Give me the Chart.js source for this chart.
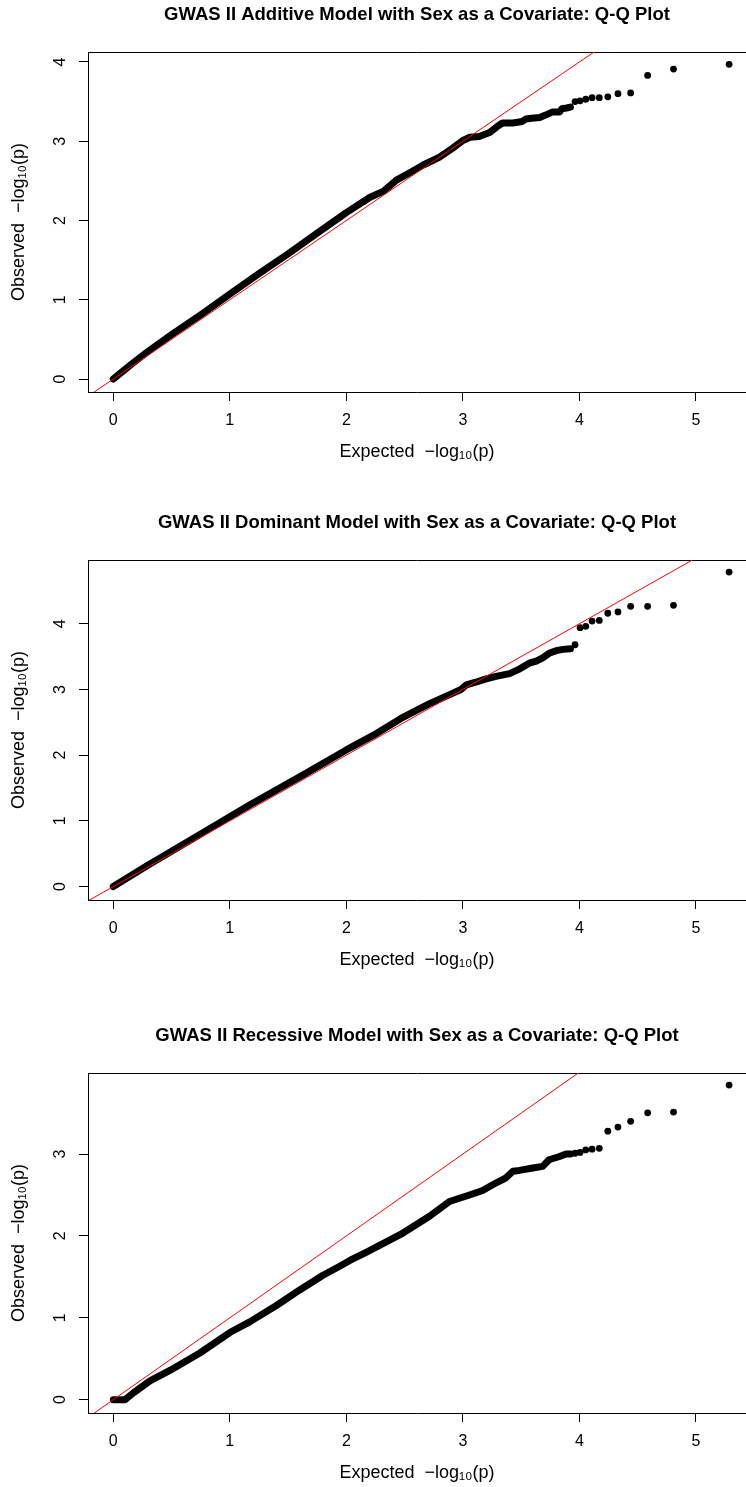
<!DOCTYPE html>
<html><head><meta charset="utf-8">
<script src="https://cdn.jsdelivr.net/npm/chart.js@4.4.1/dist/chart.umd.min.js"></script>
<style>
html,body{margin:0;padding:0;background:#fff;width:746px;height:1487px;overflow:hidden;position:relative;}
.wrap{position:absolute;left:0;width:834px;height:480px;}
</style></head><body>
<div class="wrap" style="top:0px"><canvas id="c1" width="834" height="480"></canvas></div>
<div class="wrap" style="top:508px"><canvas id="c2" width="834" height="480"></canvas></div>
<div class="wrap" style="top:1021px"><canvas id="c3" width="834" height="480"></canvas></div>
<script>
// ---- data: [expected, observed] ----
const xTicks = [0, 1, 2, 3, 4, 5];
const yTicksAdditive = [0, 1, 2, 3, 4];
const yTicksDominant = [0, 1, 2, 3, 4];
const yTicksRecessive = [0, 1, 2, 3];

const titles = [
  'GWAS II Additive Model with Sex as a Covariate: Q-Q Plot',
  'GWAS II Dominant Model with Sex as a Covariate: Q-Q Plot',
  'GWAS II Recessive Model with Sex as a Covariate: Q-Q Plot'
];
const xLabel = 'Expected  \u2212log\u2081\u2080(p)';
const yLabel = 'Observed  \u2212log\u2081\u2080(p)';

// dense bulk of points (drawn as a band of overlapping markers)
const additiveDense = [[0,0],[0.05,0.06],[0.15,0.18],[0.3,0.35],[0.5,0.56],[0.75,0.81],[1.0,1.07],[1.25,1.33],[1.5,1.58],[1.75,1.84],[2.0,2.10],[2.2,2.29],[2.32,2.37],[2.43,2.51],[2.54,2.60],[2.66,2.70],[2.8,2.80],[2.91,2.91],[3.0,3.01],[3.06,3.05],[3.14,3.06],[3.23,3.11],[3.29,3.18],[3.34,3.23],[3.43,3.23],[3.51,3.25],[3.54,3.28],[3.59,3.29],[3.66,3.30],[3.71,3.33],[3.77,3.37],[3.83,3.37],[3.85,3.41],[3.89,3.42],[3.923,3.43]];
const additiveTail = [[3.963,3.50],[4.006,3.51],[4.055,3.53],[4.109,3.55],[4.171,3.55],[4.244,3.56],[4.331,3.60],[4.44,3.61],[4.586,3.83],[4.808,3.91],[5.285,3.97]];

const dominantDense = [[0,0],[0.3,0.33],[0.74,0.79],[1.17,1.24],[1.6,1.67],[2.0,2.08],[2.23,2.30],[2.49,2.58],[2.71,2.78],[2.91,2.94],[2.985,3.0],[3.03,3.07],[3.11,3.11],[3.2,3.16],[3.285,3.20],[3.40,3.24],[3.485,3.31],[3.57,3.40],[3.63,3.43],[3.685,3.48],[3.74,3.55],[3.80,3.59],[3.86,3.61],[3.923,3.62]];
const dominantTail = [[3.963,3.68],[4.006,3.94],[4.055,3.96],[4.109,4.04],[4.171,4.05],[4.244,4.16],[4.331,4.18],[4.44,4.265],[4.586,4.265],[4.808,4.28],[5.285,4.787]];

const recessiveDense = [[0,0],[0.1,0.0],[0.17,0.08],[0.315,0.23],[0.49,0.36],[0.743,0.57],[1.0,0.82],[1.171,0.95],[1.4,1.15],[1.6,1.34],[1.8,1.52],[1.943,1.63],[2.03,1.70],[2.17,1.80],[2.285,1.884],[2.486,2.035],[2.714,2.24],[2.885,2.42],[3.057,2.50],[3.17,2.555],[3.256,2.625],[3.37,2.71],[3.43,2.79],[3.485,2.80],[3.6,2.83],[3.685,2.85],[3.74,2.93],[3.83,2.97],[3.885,3.0],[3.923,3.0]];
const recessiveTail = [[3.963,3.01],[4.006,3.02],[4.055,3.05],[4.109,3.06],[4.171,3.07],[4.244,3.28],[4.331,3.33],[4.44,3.40],[4.586,3.504],[4.808,3.513],[5.285,3.842]];

// y = x reference line endpoints
const diagonal = [[-1,-1],[6,6]];

const xRange = [-0.217, 5.43];
const yRangeAdditive = [-0.164, 4.126];
const yRangeDominant = [-0.204, 4.97];
const yRangeRecessive = [-0.163, 3.99];

// ---- rendering ----
const FAM = '"Liberation Sans", Arial, Helvetica, sans-serif';
const toXY = arr => arr.map(p => ({x: p[0], y: p[1]}));

function makeChart(id, title, dense, tail, yTicks, yRange) {
  const grid = {display: true, drawOnChartArea: false, drawTicks: true, tickLength: 9, tickColor: '#000', color: '#000', lineWidth: 1};
  const border = {display: true, color: '#000', width: 1};
  new Chart(document.getElementById(id), {
    type: 'scatter',
    data: {
      datasets: [
        {data: toXY(diagonal), showLine: true, borderColor: 'rgb(255,0,0)', borderWidth: 1, pointRadius: 0, order: 0},
        {data: toXY(tail), showLine: false, pointRadius: 3.4, pointBorderWidth: 0, pointBackgroundColor: '#000', order: 1},
        {data: toXY(dense), showLine: true, borderColor: '#000', borderWidth: 7, borderCapStyle: 'round', borderJoinStyle: 'round', pointRadius: 0, order: 2}
      ]
    },
    options: {
      responsive: false,
      animation: false,
      events: [],
      layout: {padding: {left: 0, right: 88, top: 0, bottom: 0}},
      plugins: {
        legend: {display: false},
        tooltip: {enabled: false},
        title: {display: false}
      },
      scales: {
        x: {
          type: 'linear', position: 'bottom', min: xRange[0], max: xRange[1],
          afterBuildTicks: s => { s.ticks = xTicks.map(v => ({value: v})); },
          afterFit: s => { s.height = 88; },
          grid: grid, border: border,
          ticks: {color: '#000', font: {family: FAM, size: 16}, padding: 10, maxRotation: 0, autoSkip: false},
          title: {display: true, text: xLabel, color: '#000', font: {family: FAM, size: 18}, padding: {top: 0, bottom: 17.2}}
        },
        top: {
          type: 'linear', position: 'top', axis: 'x', min: xRange[0], max: xRange[1],
          afterFit: s => { s.height = 52; },
          grid: {display: false}, border: border,
          ticks: {display: false},
          title: {display: true, text: title, color: '#000', font: {family: FAM, size: 18.5, weight: 'bold'}, padding: {top: 4.0, bottom: 0}}
        },
        y: {
          type: 'linear', position: 'left', min: yRange[0], max: yRange[1],
          afterBuildTicks: s => { s.ticks = yTicks.map(v => ({value: v})); },
          afterFit: s => { s.width = 88; },
          grid: grid, border: border,
          ticks: {color: '#000', font: {family: FAM, size: 16}, padding: 13.5, minRotation: 90, maxRotation: 90, crossAlign: 'center', autoSkip: false},
          title: {display: true, text: yLabel, color: '#000', font: {family: FAM, size: 18}, padding: {top: 8.7, bottom: 0}}
        }
      }
    }
  });
}

makeChart('c1', titles[0], additiveDense, additiveTail, yTicksAdditive, yRangeAdditive);
makeChart('c2', titles[1], dominantDense, dominantTail, yTicksDominant, yRangeDominant);
makeChart('c3', titles[2], recessiveDense, recessiveTail, yTicksRecessive, yRangeRecessive);
</script>
</body></html>
